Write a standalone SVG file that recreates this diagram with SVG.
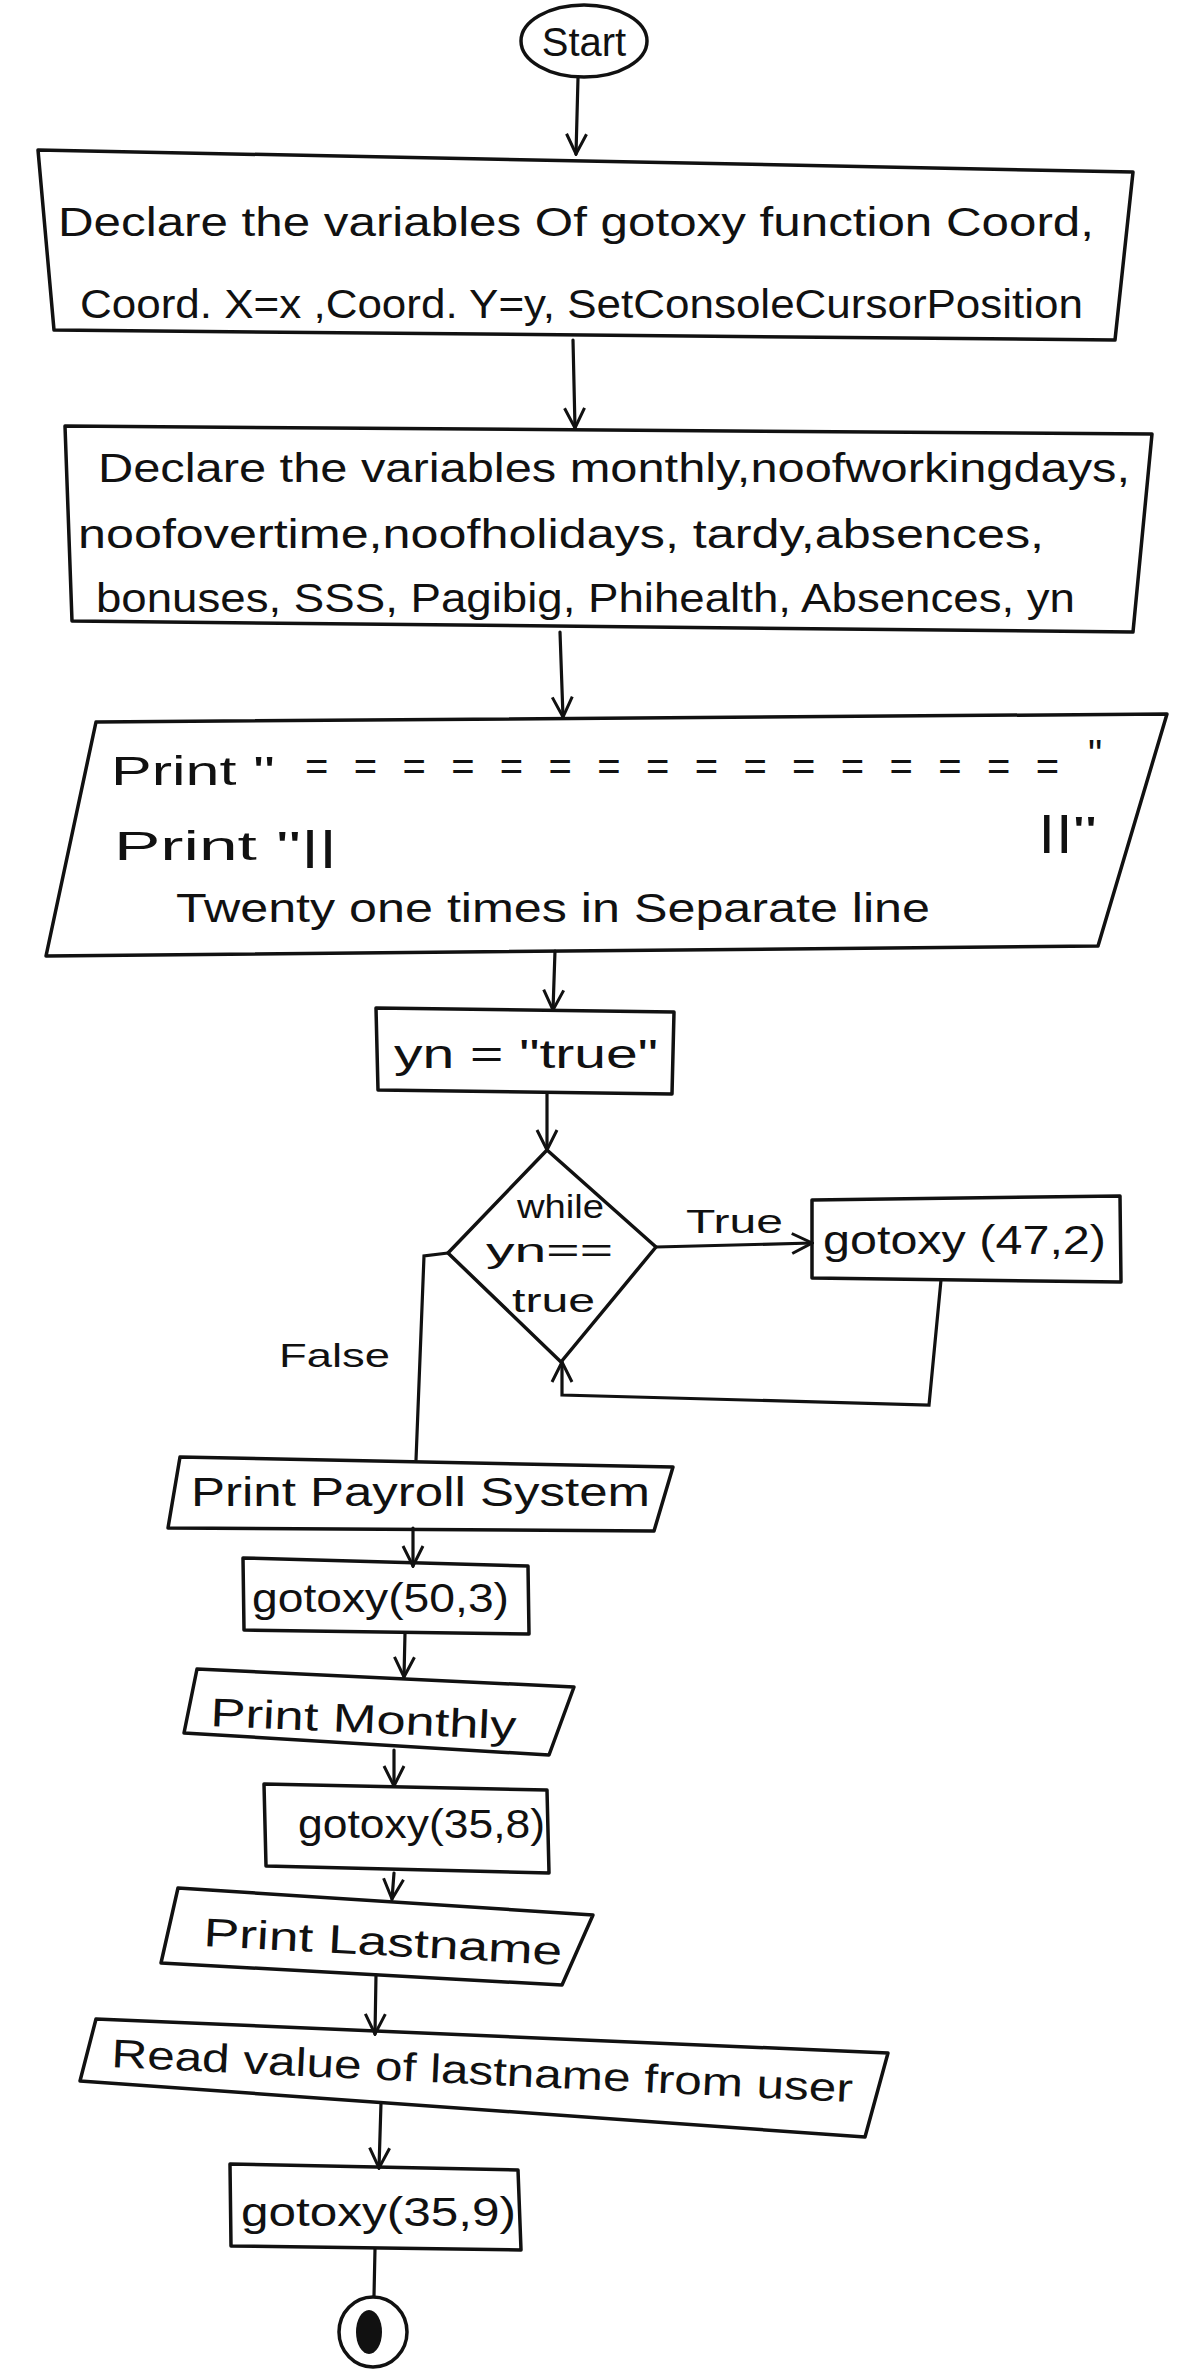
<svg xmlns="http://www.w3.org/2000/svg" width="1200" height="2376" viewBox="0 0 1200 2376">
<defs>
<style>
.shape{fill:none;stroke:#111;stroke-width:3.5;stroke-linejoin:round}
.conn{fill:none;stroke:#111;stroke-width:3.2;stroke-linecap:round}
.t{font-family:"Liberation Sans","DejaVu Sans",sans-serif;fill:#111;font-size:40px}
.s{font-size:34px}
</style>
<marker id="arr" viewBox="0 0 24 24" refX="22" refY="12" markerWidth="24" markerHeight="24" markerUnits="userSpaceOnUse" orient="auto">
<path d="M2,2 L22,12 L2,22" fill="none" stroke="#111" stroke-width="3"/>
</marker>
</defs>
<rect width="1200" height="2376" fill="#fff"/>

<g id="connectors">
<path class="conn" d="M578,78 L576,154" marker-end="url(#arr)"/>
<path class="conn" d="M573,340 L575,428" marker-end="url(#arr)"/>
<path class="conn" d="M560,632 L563,717" marker-end="url(#arr)"/>
<path class="conn" d="M555,951 L553,1010" marker-end="url(#arr)"/>
<path class="conn" d="M547,1094 L547,1150" marker-end="url(#arr)"/>
<path class="conn" d="M656,1247 L812,1243" marker-end="url(#arr)"/>
<path class="conn" d="M941,1280 L929,1405 L562,1395 L562,1362" marker-end="url(#arr)"/>
<path class="conn" d="M448,1253 L424,1256 L416,1460"/>
<path class="conn" d="M413,1528 L413,1566" marker-end="url(#arr)"/>
<path class="conn" d="M405,1633 L404,1677" marker-end="url(#arr)"/>
<path class="conn" d="M394,1750 L394,1786" marker-end="url(#arr)"/>
<path class="conn" d="M394,1873 L392,1899" marker-end="url(#arr)"/>
<path class="conn" d="M376,1975 L375,2034" marker-end="url(#arr)"/>
<path class="conn" d="M381,2103 L379,2168" marker-end="url(#arr)"/>
<path class="conn" d="M375,2249 L374,2296"/>
<text class="t s" x="686" y="1233" textLength="97" lengthAdjust="spacingAndGlyphs">True</text>
<text class="t s" x="279" y="1367" textLength="111" lengthAdjust="spacingAndGlyphs">False</text>
</g>

<g id="start">
<ellipse class="shape" cx="584" cy="41" rx="63" ry="36"/>
<text class="t" x="584" y="56" text-anchor="middle">Start</text>
</g>

<g id="declare1">
<polygon class="shape" points="38,150 1133,172 1115,340 54,330"/>
<text class="t" x="58" y="236" textLength="1036" lengthAdjust="spacingAndGlyphs">Declare the variables Of gotoxy function Coord,</text>
<text class="t" x="80" y="318" textLength="1003" lengthAdjust="spacingAndGlyphs">Coord. X=x ,Coord. Y=y, SetConsoleCursorPosition</text>
</g>

<g id="declare2">
<polygon class="shape" points="65,426 1152,434 1133,632 72,621"/>
<text class="t" x="98" y="482" textLength="1032" lengthAdjust="spacingAndGlyphs">Declare the variables monthly,noofworkingdays,</text>
<text class="t" x="78" y="548" textLength="966" lengthAdjust="spacingAndGlyphs">noofovertime,noofholidays, tardy,absences,</text>
<text class="t" x="96" y="612" textLength="979" lengthAdjust="spacingAndGlyphs">bonuses, SSS, Pagibig, Phihealth, Absences, yn</text>
</g>

<g id="print-lines">
<polygon class="shape" points="96,722 1167,714 1098,946 46,956"/>
<text class="t" font-size="44"><tspan x="111" y="785" textLength="164" lengthAdjust="spacingAndGlyphs">Print "</tspan><tspan x="305" y="780" textLength="754" lengthAdjust="spacing">= = = = = = = = = = = = = = = =</tspan><tspan x="1088" y="768">"</tspan></text>
<text class="t" font-size="44"><tspan x="114" y="860" textLength="223" lengthAdjust="spacingAndGlyphs">Print "||</tspan><tspan x="1038" y="845" textLength="59" lengthAdjust="spacingAndGlyphs">||"</tspan></text>
<text class="t" x="176" y="922" textLength="754" lengthAdjust="spacingAndGlyphs">Twenty one times in Separate line</text>
</g>

<g id="yn-true">
<polygon class="shape" points="376,1008 674,1012 672,1094 378,1090"/>
<text class="t" x="394" y="1068" font-size="46" textLength="264" lengthAdjust="spacingAndGlyphs">yn = "true"</text>
</g>

<g id="while">
<polygon class="shape" points="547,1150 656,1247 561,1362 448,1253"/>
<text class="t s" x="517" y="1218" textLength="87" lengthAdjust="spacingAndGlyphs">while</text>
<text class="t s" x="486" y="1262" textLength="127" lengthAdjust="spacingAndGlyphs">yn==</text>
<text class="t s" x="512" y="1312" textLength="83" lengthAdjust="spacingAndGlyphs">true</text>
</g>

<g id="gotoxy-47-2">
<polygon class="shape" points="812,1200 1120,1196 1121,1282 812,1278"/>
<text class="t" x="823" y="1254" textLength="283" lengthAdjust="spacingAndGlyphs">gotoxy (47,2)</text>
</g>

<g id="print-payroll">
<polygon class="shape" points="180,1457 673,1467 654,1531 168,1528"/>
<text class="t" x="191" y="1506" textLength="459" lengthAdjust="spacingAndGlyphs">Print Payroll System</text>
</g>

<g id="gotoxy-50-3">
<polygon class="shape" points="243,1558 528,1566 529,1634 244,1630"/>
<text class="t" x="252" y="1612" textLength="257" lengthAdjust="spacingAndGlyphs">gotoxy(50,3)</text>
</g>

<g id="print-monthly">
<polygon class="shape" points="197,1669 574,1687 549,1755 184,1733"/>
<text class="t" x="210" y="1726" textLength="306" lengthAdjust="spacingAndGlyphs" transform="rotate(2.5 210 1726)">Print Monthly</text>
</g>

<g id="gotoxy-35-8">
<polygon class="shape" points="264,1784 547,1790 549,1873 266,1866"/>
<text class="t" x="298" y="1838" textLength="247" lengthAdjust="spacingAndGlyphs">gotoxy(35,8)</text>
</g>

<g id="print-lastname">
<polygon class="shape" points="178,1888 593,1915 562,1985 161,1963"/>
<text class="t" x="203" y="1946" textLength="359" lengthAdjust="spacingAndGlyphs" transform="rotate(3 203 1946)">Print Lastname</text>
</g>

<g id="read-lastname">
<polygon class="shape" points="96,2019 888,2053 865,2137 80,2081"/>
<text class="t" x="111" y="2067" textLength="742" lengthAdjust="spacingAndGlyphs" transform="rotate(2.7 111 2067)">Read value of lastname from user</text>
</g>

<g id="gotoxy-35-9">
<polygon class="shape" points="230,2164 518,2170 521,2250 231,2246"/>
<text class="t" x="241" y="2226" textLength="275" lengthAdjust="spacingAndGlyphs">gotoxy(35,9)</text>
</g>

<g id="end">
<ellipse class="shape" cx="373" cy="2332" rx="34" ry="35"/>
<ellipse cx="369" cy="2332" rx="13" ry="22" fill="#111"/>
</g>
</svg>
